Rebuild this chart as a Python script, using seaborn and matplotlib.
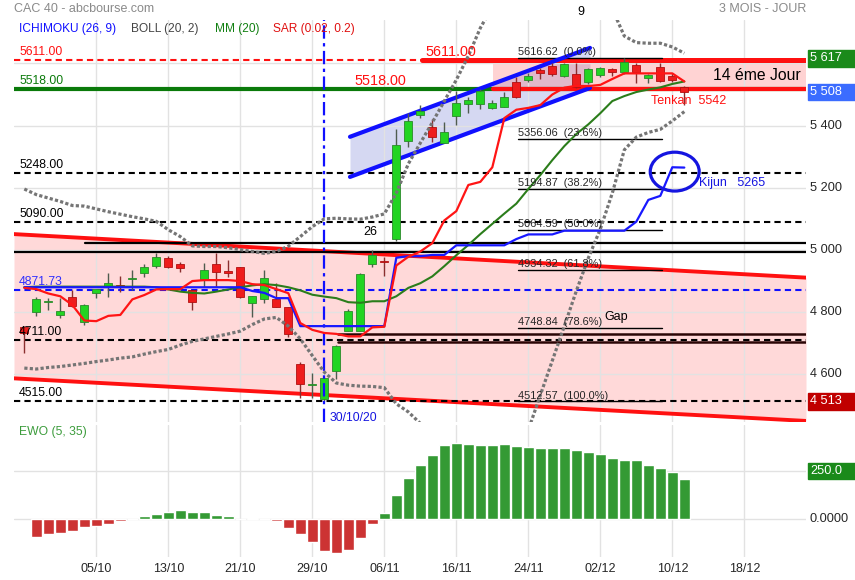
import numpy as np
import pandas as pd
import matplotlib
matplotlib.use("Agg")
import matplotlib.pyplot as plt
import matplotlib.transforms as mtransforms
from matplotlib.patches import Ellipse, Rectangle
import seaborn as sns

# CAC 40 daily candles, 25/09/2020 -> 11/12/2020 (one value per trading day)
opens = [4752, 4801, 4833, 4790, 4849, 4768, 4861, 4880, 4887, 4908,
         4925, 4949, 4973, 4955, 4871, 4907, 4955, 4932, 4944, 4828,
         4841, 4841, 4816, 4633, 4568, 4520, 4612, 4740, 4740, 4955,
         4965, 5034, 5351, 5434, 5394, 5345, 5431, 5468, 5468, 5458,
         5461, 5541, 5547, 5579, 5592, 5561, 5566, 5541, 5563, 5581,
         5573, 5595, 5552, 5589, 5560, 5525]
highs = [4755, 4850, 4846, 4845, 4871, 4825, 4875, 4925, 4916, 4936,
         4955, 4989, 4980, 4962, 4871, 4957, 4991, 4968, 4944, 4852,
         4936, 4895, 4816, 4641, 4603, 4590, 4695, 4809, 4925, 5000,
         4978, 5389, 5440, 5466, 5421, 5413, 5512, 5493, 5518, 5482,
         5509, 5557, 5568, 5584, 5600, 5601, 5602, 5585, 5590, 5584,
         5617, 5600, 5565, 5600, 5568, 5528]
lows = [4669, 4788, 4807, 4782, 4818, 4759, 4845, 4850, 4866, 4871,
        4914, 4941, 4941, 4930, 4807, 4882, 4882, 4912, 4845, 4784,
        4828, 4816, 4721, 4523, 4523, 4515, 4584, 4740, 4740, 4946,
        4916, 5030, 5330, 5425, 5348, 5345, 5402, 5442, 5454, 5452,
        5461, 5488, 5541, 5549, 5560, 5555, 5522, 5535, 5555, 5560,
        5565, 5538, 5536, 5540, 5540, 5466]
closes = [4733, 4841, 4834, 4804, 4821, 4822, 4873, 4893, 4880, 4909,
          4944, 4976, 4946, 4941, 4834, 4935, 4928, 4926, 4850, 4852,
          4909, 4816, 4729, 4568, 4569, 4589, 4691, 4804, 4923, 4984,
          4960, 5338, 5416, 5447, 5362, 5378, 5472, 5482, 5511, 5474,
          5493, 5491, 5560, 5570, 5565, 5598, 5525, 5581, 5584, 5573,
          5606, 5571, 5563, 5544, 5547, 5507]

# indicators
tenkan = [4878, 4874, 4860, 4851, 4823, 4773, 4771, 4788, 4791, 4841,
          4855, 4873, 4874, 4874, 4900, 4903, 4903, 4903, 4900, 4890,
          4887, 4874, 4861, 4765, 4743, 4733, 4730, 4722, 4722, 4751,
          4753, 4950, 4978, 4995, 5022, 5095, 5125, 5209, 5219, 5266,
          5424, 5451, 5457, 5466, 5500, 5522, 5528, 5527, 5531, 5550,
          5568, 5568, 5568, 5568, 5568, 5542]
kijun = [4880, 4880, 4880, 4880, 4880, 4880, 4880, 4880, 4880, 4880,
         4880, 4880, 4880, 4880, 4880, 4880, 4880, 4880, 4880, 4868,
         4862, 4845, 4845, 4755, 4755, 4755, 4755, 4755, 4755, 4755,
         4755, 4975, 4980, 4980, 4984, 4984, 5015, 5015, 5015, 5015,
         5015, 5035, 5050, 5050, 5050, 5062, 5062, 5062, 5062, 5062,
         5062, 5091, 5161, 5174, 5266, 5265]
mm20 = [4880, 4882, 4882, 4882, 4882, 4882, 4882, 4882, 4882, 4882,
        4882, 4880, 4873, 4866, 4862, 4860, 4866, 4873, 4880, 4886,
        4890, 4887, 4880, 4870, 4856, 4850, 4845, 4832, 4830, 4835,
        4835, 4851, 4878, 4893, 4915, 4948, 4983, 5016, 5051, 5084,
        5117, 5149, 5196, 5241, 5289, 5334, 5373, 5404, 5440, 5479,
        5495, 5508, 5516, 5523, 5534, 5542]
boll_up = [5196, 5178, 5167, 5156, 5143, 5141, 5132, 5123, 5115, 5107,
           5100, 5092, 5065, 5043, 5013, 5011, 5011, 5007, 5001, 4995,
           4989, 4995, 5012, 5043, 5075, 5100, 5102, 5100, 5099, 5106,
           5116, 5183, 5277, 5344, 5410, 5479, 5547, 5624, 5714, 5783,
           5849, 5903, 5971, 5949, 5934, 5913, 5878, 5834, 5807, 5775,
           5688, 5667, 5665, 5665, 5653, 5633]
boll_low = [4620, 4617, 4622, 4625, 4630, 4635, 4641, 4646, 4652, 4656,
            4665, 4673, 4680, 4694, 4706, 4714, 4722, 4730, 4739, 4760,
            4778, 4783, 4755, 4714, 4660, 4607, 4572, 4565, 4562, 4561,
            4557, 4505, 4479, 4442, 4420, 4417, 4419, 4408, 4388, 4385,
            4385, 4395, 4421, 4533, 4644, 4755, 4868, 4974, 5067, 5183,
            5322, 5363, 5378, 5388, 5415, 5445]
# EWO (5, 35), from 28/09 onwards
ewo = [-94, -79, -74, -63, -43, -38, -27, -12, -2, 17,
       27, 39, 45, 34, 34, 22, 17, 0, 7, 0,
       -12, -45, -79, -120, -168, -176, -161, -99, -27, 33,
       125, 212, 284, 336, 387, 397, 392, 387, 387, 392,
       382, 377, 372, 372, 372, 361, 351, 341, 320, 310,
       305, 284, 264, 243, 207]

tick_pos = [6, 12, 18, 24, 30, 36, 42, 48, 54, 60]
tick_labels = ["05/10", "13/10", "21/10", "29/10", "06/11",
               "16/11", "24/11", "02/12", "10/12", "18/12"]

# drawn levels
dash_levels = [5248.00, 5090.00, 4711.00, 4515.00]
fib_levels = [5616.62, 5356.06, 5194.87, 5064.59, 4934.32, 4748.84, 4512.57]
fib_pcts = ["0.0%", "23.6%", "38.2%", "50.0%", "61.8%", "78.6%", "100.0%"]
down_chan_x = [-0.86, 65.14]
down_chan_top = [5051, 4911]
down_chan_bot = [4587, 4450]
up_chan_x = [27.14, 47.14]
up_chan_top = [5364, 5650]
up_chan_bot = [5235, 5521]

sns.set_style("white")
plt.rcParams["font.family"] = ["Liberation Sans", "DejaVu Sans"]

fig = plt.figure(figsize=(8.55, 5.8), dpi=100)
ax = fig.add_axes([14 / 855, 1 - 422 / 580, 792 / 855, 402 / 580])
ax2 = fig.add_axes([14 / 855, 1 - 557 / 580, 792 / 855, 132 / 580])
XMIN, XMAX = -0.86, 65.14

for a in (ax, ax2):
    for s in a.spines.values():
        s.set_visible(False)
    a.set_axisbelow(False)
    a.tick_params(length=0, labelleft=False, labelbottom=False)

# ---- price panel ----
ax.set_xlim(XMIN, XMAX)
ax.set_ylim(4446.6, 5739.7)
ax.set_xticks(tick_pos)
ax.set_yticks([4600, 4800, 5000, 5200, 5400, 5600])
ax.grid(color="#e2e2e2", lw=1)

ax.fill_between(down_chan_x, down_chan_top, down_chan_bot, color="#ffd9d9", lw=0, zorder=0)
ax.plot(down_chan_x, down_chan_top, color="#ff1010", lw=2.8, zorder=3)
ax.plot(down_chan_x, down_chan_bot, color="#ff1010", lw=2.8, zorder=3)
ax.fill_between(up_chan_x, up_chan_top, up_chan_bot, color="#d5d8f2", lw=0, zorder=0)
ax.plot(up_chan_x, up_chan_top, color="#1010ff", lw=3, zorder=4)
ax.plot(up_chan_x, up_chan_bot, color="#1010ff", lw=3, zorder=4)
ax.fill_between([39.06, XMAX], 5611, 5518, color="#ff7070", alpha=0.3, lw=0, zorder=0.5)

# horizontal levels
ax.axhline(5611, color="#ff1010", lw=1.5, ls=(0, (3, 2)), zorder=3)
ax.plot([33.14, XMAX], [5611, 5611], color="#ff1010", lw=3.6, zorder=3)
ax.axhline(5518, color="#0a7a0a", lw=3, zorder=3)
ax.plot([39.06, XMAX], [5518, 5518], color="#ff1010", lw=3, zorder=3)
for lv in dash_levels:
    ax.axhline(lv, color="black", lw=1.5, ls=(0, (3, 2)), zorder=3)
ax.axhline(4871.73, color="#1010ff", lw=1.5, ls=(0, (3, 2)), zorder=3)
ax.plot([5.06, XMAX], [5023, 5023], color="black", lw=1.6, zorder=3)
ax.axhline(4994, color="black", lw=1.6, zorder=3)
ax.plot([26.14, XMAX], [4731, 4731], color="#2a0505", lw=1.8, zorder=3)
ax.plot([26.14, XMAX], [4705, 4705], color="#2a0505", lw=1.8, zorder=3)
for lv, pct in zip(fib_levels, fib_pcts):
    ax.plot([41.14, 53.14], [lv, lv], color="black", lw=1, zorder=3)
    ax.text(41.14, lv + 3, f"{lv:.2f}  ({pct})", fontsize=7.9, va="bottom", ha="left", zorder=7)

ax.axvline(25, color="#1010ff", lw=1.6, ls=(0, (6, 2, 1.5, 2)), zorder=6)

# candles
x = np.arange(len(opens))
o, h, l, c = map(np.array, (opens, highs, lows, closes))
up = c >= o
mid = (o + c) / 2
body_h = np.maximum(np.abs(c - o), 3)
body_lo = mid - body_h / 2
ax.vlines(x[up], l[up], h[up], color="#4f5c4f", lw=1, zorder=4.5)
ax.vlines(x[~up], l[~up], h[~up], color="#8a2e2e", lw=1, zorder=4.5)
ax.bar(x[up], body_h[up], bottom=body_lo[up], width=0.68, color="#22d422",
       edgecolor="#2a8a2a", lw=0.6, zorder=5)
ax.bar(x[~up], body_h[~up], bottom=body_lo[~up], width=0.68, color="#ee1c1c",
       edgecolor="#b01010", lw=0.6, zorder=5)

# indicators
sns.lineplot(x=x, y=boll_up, ax=ax, color="#757575", lw=2.3, ls=(0, (1, 0.7)), zorder=6)
sns.lineplot(x=x, y=boll_low, ax=ax, color="#757575", lw=2.3, ls=(0, (1, 0.7)), zorder=6)
sns.lineplot(x=x, y=mm20, ax=ax, color="#2b7d1b", lw=1.5, zorder=6)
sns.lineplot(x=x, y=kijun, ax=ax, color="#1818ff", lw=1.6, zorder=6)
sns.lineplot(x=x, y=tenkan, ax=ax, color="#ff1515", lw=1.6, zorder=6)
ax.set_xlim(XMIN, XMAX)
ax.set_ylim(4446.6, 5739.7)

ax.add_patch(Ellipse((54.2, 5252), 4.08, 125, fill=False, ec="#1515e0", lw=2.3, zorder=7))

# annotations
left_labels = [(5611, "5611.00", "#ff1010"), (5518, "5518.00", "#0a7a0a"),
               (5248, "5248.00", "black"), (5090, "5090.00", "black"),
               (4871.73, "4871.73", "#3030ff"), (4711, "4711.00", "black"),
               (4515, "4515.00", "black")]
for lv, txt, col in left_labels:
    ax.text(-0.44, lv + 5, txt, color=col, fontsize=8.8, va="bottom", ha="left", zorder=7)
ax.text(33.4, 5614, "5611.00", color="#ff1010", fontsize=10.4, va="bottom", zorder=7)
ax.text(27.5, 5521, "5518.00", color="#ff1010", fontsize=10.4, va="bottom", zorder=7)
ax.text(57.4, 5562, "14 éme Jour", color="black", fontsize=11.3, va="center", zorder=7)
ax.text(52.2, 5479, "Tenkan  5542", color="#ff1010", fontsize=9, va="center", zorder=7)
ax.text(56.2, 5215, "Kijun   5265", color="#1515e0", fontsize=9, va="center", zorder=7)
ax.text(25.4, 4461, "30/10/20", color="#1515e0", fontsize=8.7, va="center", zorder=7)
ax.text(28.8, 5058, "26", color="black", fontsize=9, va="center", ha="center", zorder=7)
ax.text(48.3, 4784, "Gap", color="black", fontsize=9, va="center", zorder=7)
ax.text(46.4, 5765, "9", color="black", fontsize=9, va="center", ha="center", clip_on=False, zorder=7)

# right axis labels
trans = mtransforms.blended_transform_factory(ax.transAxes, ax.transData)
for v in [5400, 5200, 5000, 4800, 4600]:
    ax.text(1.005, v, f"{v // 1000} {v % 1000:03d}", transform=trans, fontsize=9.2,
            va="center", ha="left", clip_on=False)
for v, txt, col in [(5617, "5 617", "#1a8a1a"), (5508, "5 508", "#3b6cff"), (4513, "4 513", "#c00000")]:
    ax.add_patch(Rectangle((1.0025, v - 27), 0.0593, 54, transform=trans, color=col,
                           clip_on=False, zorder=7))
    ax.text(1.005, v, txt, transform=trans, fontsize=9.2, color="white",
            va="center", ha="left", clip_on=False, zorder=8)

# ---- EWO panel ----
ewo_df = pd.DataFrame({"day": np.arange(1, len(ewo) + 1), "ewo": ewo})
ewo_df["sign"] = np.where(ewo_df["ewo"] >= 0, "pos", "neg")
sns.barplot(data=ewo_df, x="day", y="ewo", hue="sign", palette={"pos": "#349a34", "neg": "#cc3333"},
            native_scale=True, width=0.9, dodge=False, saturation=1, errorbar=None,
            legend=False, ax=ax2, zorder=3)
ax2.set_xlim(XMIN, XMAX)
ax2.set_ylim(-198, 490)
ax2.set_xlabel("")
ax2.set_ylabel("")
ax2.set_xticks(tick_pos)
ax2.set_yticks([0, 250])
ax2.grid(color="#e2e2e2", lw=1)
ax2.tick_params(length=0, labelleft=False, labelbottom=True, labelsize=9, pad=4)
ax2.set_xticklabels(tick_labels)
ax2.text(-0.44, 455, "EWO (5, 35)", color="#3c9c3c", fontsize=8.7, va="center")
trans2 = mtransforms.blended_transform_factory(ax2.transAxes, ax2.transData)
ax2.text(1.005, 0, "0.0000", transform=trans2, fontsize=9.2, va="center", clip_on=False)
ax2.add_patch(Rectangle((1.0025, 250 - 42), 0.0593, 84, transform=trans2, color="#1a8a1a",
                        clip_on=False, zorder=7))
ax2.text(1.005, 250, "250.0", transform=trans2, fontsize=9.2, color="white",
         va="center", clip_on=False, zorder=8)

# ---- header ----
fig.text(14 / 855, 1 - 9 / 580, "CAC 40 - abcbourse.com", color="#8a8a8a", fontsize=9, va="center")
fig.text(806 / 855, 1 - 9 / 580, "3 MOIS - JOUR", color="#8a8a8a", fontsize=9, va="center", ha="right")
for px, txt, col in [(19, "ICHIMOKU (26, 9)", "#1010ff"), (131, "BOLL (20, 2)", "#444444"),
                     (215, "MM (20)", "#128012"), (273, "SAR (0.02, 0.2)", "#e01010")]:
    fig.text(px / 855, 1 - 29 / 580, txt, color=col, fontsize=8.6, va="center")

fig.savefig("out.png", dpi=100)
